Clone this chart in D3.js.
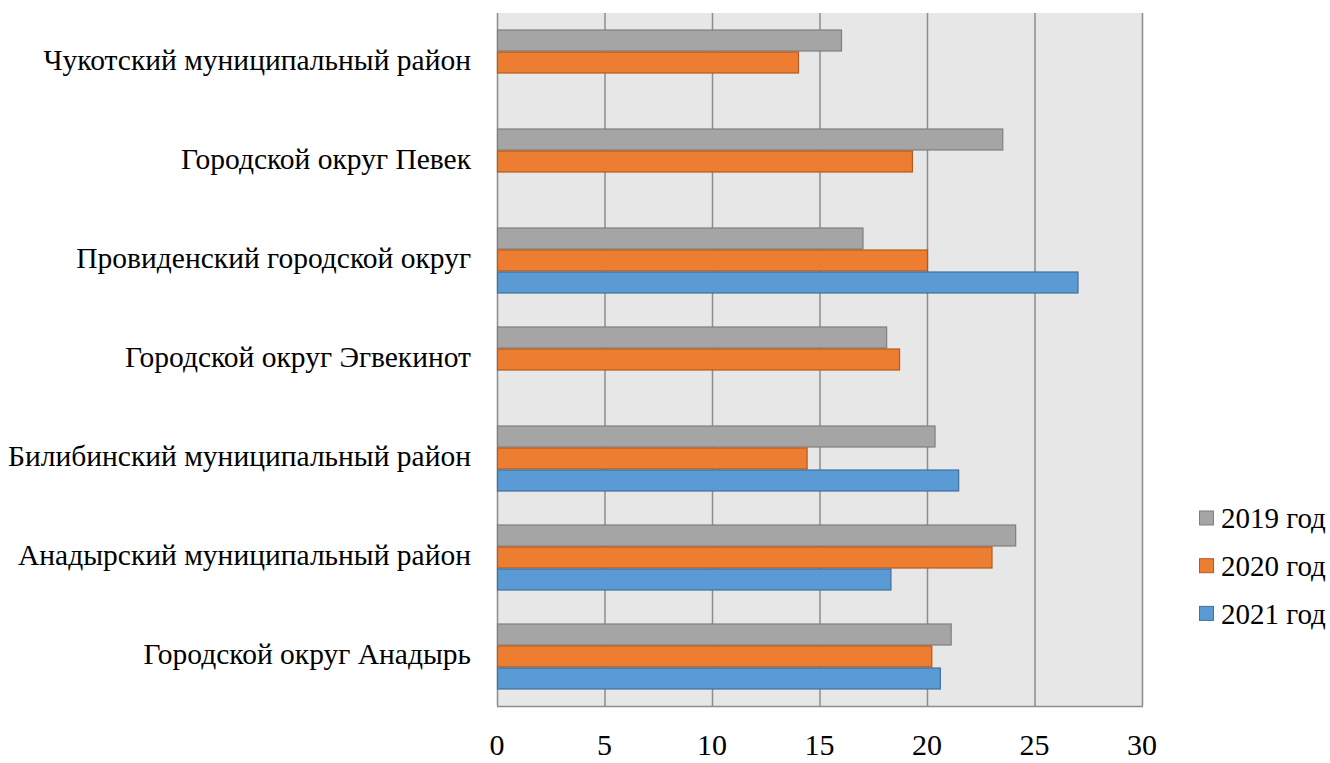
<!DOCTYPE html>
<html><head><meta charset="utf-8">
<script src="https://cdn.jsdelivr.net/npm/d3@7"></script>
<style>body{margin:0;background:#fff}svg{display:block}</style>
</head><body>
<svg id="c" width="1330" height="763"></svg>
<script>
const categories = ["Чукотский муниципальный район","Городской округ Певек","Провиденский городской округ","Городской округ Эгвекинот","Билибинский муниципальный район","Анадырский муниципальный район","Городской округ Анадырь"];
const seriesNames = ["2019 год","2020 год","2021 год"];
const v2019 = [16.0, 23.5, 17.0, 18.1, 20.35, 24.1, 21.1];
const v2020 = [14.0, 19.3, 20.0, 18.7, 14.4, 23.0, 20.2];
const v2021 = [null, null, 27.0, null, 21.45, 18.3, 20.6];
const xTicks = [0,5,10,15,20,25,30];
const fills = ["#A5A5A5","#ED7D31","#5B9BD5"];
const strokes = ["#7F7F7F","#B35A1F","#41719C"];
const values = [v2019, v2020, v2021];
const FONT = "Liberation Serif, Tinos, DejaVu Serif, serif";

const svg = d3.select("#c");
const L=497, R=1142, T=13, B=706;
const x = d3.scaleLinear().domain([0,30]).range([L,R]);
const y = d3.scaleBand().domain(categories).range([T,B]).paddingInner(1/3).paddingOuter(1/6);
const ys = d3.scaleBand().domain(seriesNames).range([0,y.bandwidth()]);

svg.append("rect").attr("x",L).attr("y",T).attr("width",R-L).attr("height",B-T).attr("fill","#E7E7E7");
svg.append("g").selectAll("line").data(xTicks).join("line")
  .attr("x1",d=>x(d)+0.5).attr("x2",d=>x(d)+0.5).attr("y1",T).attr("y2",B)
  .attr("stroke","#8C8C8C").attr("stroke-width",1.5);
svg.append("line").attr("x1",L).attr("x2",R+1).attr("y1",B+0.5).attr("y2",B+0.5).attr("stroke","#8C8C8C").attr("stroke-width",1.5);

seriesNames.forEach((s,si)=>{
  svg.append("g").selectAll("rect").data(categories.map((c,i)=>({c,v:values[si][i]})).filter(d=>d.v!=null)).join("rect")
    .attr("x",x(0)+0.5).attr("y",d=>y(d.c)+ys(s)+0.5)
    .attr("width",d=>x(d.v)-x(0)).attr("height",ys.bandwidth()-1)
    .attr("fill",fills[si]).attr("stroke",strokes[si]).attr("stroke-width",1.2);
});

svg.append("g").selectAll("text").data(categories).join("text")
  .attr("x",471).attr("y",d=>y(d)+y.bandwidth()/2).attr("dy","0.25em")
  .attr("text-anchor","end").style("font-family",FONT)
  .style("font-size","29.5px").attr("fill","#000").text(d=>d);

svg.append("g").selectAll("text").data(xTicks).join("text")
  .attr("x",d=>x(d)).attr("y",755).attr("text-anchor","middle")
  .style("font-family",FONT).style("font-size","30px").attr("fill","#000").text(d=>d);

const lg = svg.append("g");
seriesNames.forEach((s,i)=>{
  const cy = 518 + i*47.7;
  lg.append("rect").attr("x",1199.5).attr("y",cy-7).attr("width",14).attr("height",14)
    .attr("fill",fills[i]).attr("stroke",strokes[i]).attr("stroke-width",1);
  lg.append("text").attr("x",1221).attr("y",cy).attr("dy","0.35em")
    .style("font-family",FONT).style("font-size","29px").attr("fill","#000").text(s);
});
</script>
</body></html>
